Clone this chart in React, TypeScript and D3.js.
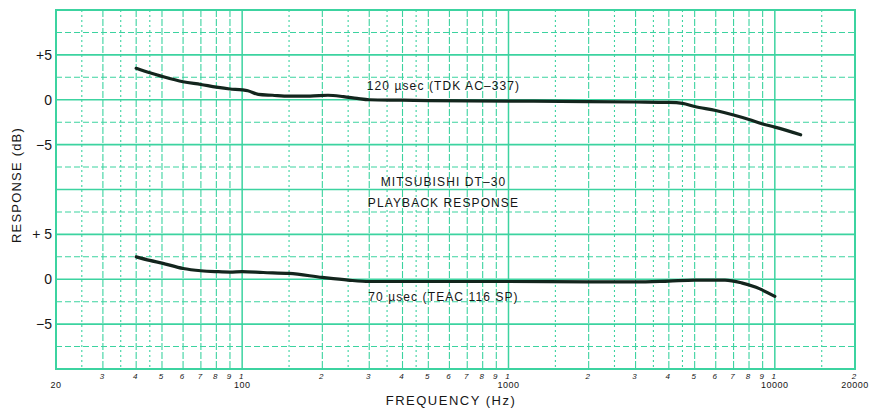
import React, { useEffect, useRef } from 'react';
import * as d3 from 'd3';

// upper curve: 120 usec (TDK AC-337), dB relative to its own 0
const upperFreq = [40, 45, 50, 60, 70, 80, 90, 100, 105, 115, 130, 150, 180, 210, 240, 270, 300, 400, 500, 1000, 2000, 3000, 4000, 4500, 5000, 6000, 7000, 8000, 9000, 10000, 12500];
const upperDb = [3.5, 3.0, 2.6, 2.0, 1.7, 1.4, 1.2, 1.1, 1.0, 0.6, 0.5, 0.4, 0.4, 0.5, 0.35, 0.15, 0.0, -0.05, -0.1, -0.15, -0.2, -0.25, -0.3, -0.4, -0.75, -1.2, -1.7, -2.2, -2.7, -3.05, -3.9];

// lower curve: 70 usec (TEAC 116 SP)
const lowerFreq = [40, 45, 50, 60, 70, 80, 90, 100, 120, 150, 200, 250, 300, 500, 1000, 2000, 3000, 4000, 5000, 6500, 7500, 8500, 10000];
const lowerDb = [2.5, 2.1, 1.8, 1.2, 0.95, 0.85, 0.8, 0.85, 0.75, 0.65, 0.2, -0.1, -0.25, -0.25, -0.25, -0.3, -0.3, -0.2, -0.1, -0.1, -0.4, -0.9, -1.9];

// the two panels share one dB scale; upper panel sits 20 dB above lower one
const upperOffset = 0;
const lowerOffset = -20;

const decades = [10, 100, 1000, 10000];
const gridMultiples = [1, 1.5, 2, 2.5, 3, 3.5, 4, 4.5, 5, 6, 7, 8, 9];
const digitMultiples = [1, 2, 3, 4, 5, 6, 7, 8, 9];
const decadeFreqs = [20, 100, 1000, 10000, 20000];
const decadeLabels = ['20', '100', '1000', '10000', '20000'];

const yTickValues = [5, 0, -5, -15, -20, -25];
const yTickLabels = ['+5', '0', '\u22125', '+ 5', '0', '\u22125'];

const noteTexts = ['120 \u00b5sec (TDK AC\u2013337)', 'MITSUBISHI DT\u201330', 'PLAYBACK RESPONSE', '70 \u00b5sec (TEAC 116 SP)'];
const noteDb = [1.6, -9.1, -11.5, -21.9];

const App: React.FC = () => {
    const svgRef = useRef<SVGSVGElement>(null);

    const width = 869;
    const height = 409;

    useEffect(() => {
        if (!svgRef.current) return;
        document.body.style.margin = '0';

        const svg = d3.select(svgRef.current);
        svg.selectAll('*').remove();

        const margin = { top: 10, right: 14, bottom: 40, left: 56 };
        const gridColor = '#3cd3a0';
        const inkColor = '#13251d';
        const textColor = '#161616';
        const font = '"Liberation Sans", Arial, sans-serif';

        const xScale = d3.scaleLog()
            .domain([20, 20000])
            .range([margin.left, width - margin.right]);

        const yScale = d3.scaleLinear()
            .domain([-30, 10])
            .range([height - margin.bottom, margin.top]);

        svg.append('rect')
            .attr('width', width)
            .attr('height', height)
            .attr('fill', '#ffffff');

        // vertical grid
        const gridFreqs: number[] = [];
        decades.forEach(d => gridMultiples.forEach(m => {
            const f = d * m;
            if (f > 20 && f < 20000) gridFreqs.push(f);
        }));

        const mantissa = (d: number) => d / Math.pow(10, Math.floor(Math.log10(d) + 1e-9));

        svg.append('g')
            .selectAll('line')
            .data(gridFreqs)
            .join('line')
            .attr('x1', d => xScale(d))
            .attr('x2', d => xScale(d))
            .attr('y1', yScale(10))
            .attr('y2', yScale(-30))
            .attr('stroke', gridColor)
            .attr('stroke-width', d => (Math.abs(mantissa(d) - 1) < 1e-6 ? 1.5 : 1.1))
            .attr('stroke-dasharray', d => {
                const m = Math.round(mantissa(d) * 10) / 10;
                if (m === 1) return null;
                return Number.isInteger(m) ? '7,2' : '2,3';
            });

        // horizontal grid
        const gridDb = d3.range(-27.5, 10, 2.5);
        svg.append('g')
            .selectAll('line')
            .data(gridDb)
            .join('line')
            .attr('x1', xScale(20))
            .attr('x2', xScale(20000))
            .attr('y1', d => yScale(d))
            .attr('y2', d => yScale(d))
            .attr('stroke', gridColor)
            .attr('stroke-width', d => (d % 5 === 0 ? 1.6 : 1.1))
            .attr('stroke-dasharray', d => (d % 5 === 0 ? null : '6,3'));

        // frame
        svg.append('rect')
            .attr('x', xScale(20))
            .attr('y', yScale(10))
            .attr('width', xScale(20000) - xScale(20))
            .attr('height', yScale(-30) - yScale(10))
            .attr('fill', 'none')
            .attr('stroke', gridColor)
            .attr('stroke-width', 2);

        // curves
        const line = d3.line<[number, number]>()
            .x(d => xScale(d[0]))
            .y(d => yScale(d[1]))
            .curve(d3.curveMonotoneX);

        svg.append('path')
            .datum(upperFreq.map((f, i) => [f, upperDb[i] + upperOffset] as [number, number]))
            .attr('fill', 'none')
            .attr('stroke', inkColor)
            .attr('stroke-width', 3.2)
            .attr('stroke-linecap', 'round')
            .attr('d', line);

        svg.append('path')
            .datum(lowerFreq.map((f, i) => [f, lowerDb[i] + lowerOffset] as [number, number]))
            .attr('fill', 'none')
            .attr('stroke', inkColor)
            .attr('stroke-width', 3.2)
            .attr('stroke-linecap', 'round')
            .attr('d', line);

        // y tick labels
        svg.append('g')
            .selectAll('text')
            .data(yTickValues)
            .join('text')
            .attr('x', margin.left - 4)
            .attr('y', d => yScale(d))
            .attr('dy', '0.36em')
            .attr('text-anchor', 'end')
            .attr('font-family', font)
            .attr('font-size', 14)
            .attr('fill', textColor)
            .text((d, i) => yTickLabels[i]);

        // x digit labels
        const digitFreqs: number[] = [];
        decades.forEach(d => digitMultiples.forEach(m => {
            const f = d * m;
            if (f > 20 && f <= 20000) digitFreqs.push(f);
        }));

        svg.append('g')
            .selectAll('text')
            .data(digitFreqs)
            .join('text')
            .attr('x', d => xScale(d) - 1)
            .attr('y', yScale(-30) + 10)
            .attr('text-anchor', 'middle')
            .attr('font-family', font)
            .attr('font-size', 8)
            .attr('font-style', 'italic')
            .attr('fill', textColor)
            .text(d => String(Math.round(mantissa(d))));

        svg.append('g')
            .selectAll('text')
            .data(decadeFreqs)
            .join('text')
            .attr('x', d => xScale(d))
            .attr('y', yScale(-30) + 19)
            .attr('text-anchor', 'middle')
            .attr('font-family', font)
            .attr('font-size', 9)
            .attr('letter-spacing', 0.5)
            .attr('fill', textColor)
            .text((d, i) => decadeLabels[i]);

        // axis titles
        svg.append('text')
            .attr('x', 451)
            .attr('y', height - 4)
            .attr('text-anchor', 'middle')
            .attr('font-family', font)
            .attr('font-size', 13)
            .attr('letter-spacing', 1.5)
            .attr('fill', textColor)
            .text('FREQUENCY (Hz)');

        svg.append('text')
            .attr('transform', `translate(21, ${yScale(-9.5)}) rotate(-90)`)
            .attr('text-anchor', 'middle')
            .attr('font-family', font)
            .attr('font-size', 13)
            .attr('letter-spacing', 1.2)
            .attr('fill', textColor)
            .text('RESPONSE (dB)');

        // annotations, centred near 570 Hz
        svg.append('g')
            .selectAll('text')
            .data(noteTexts)
            .join('text')
            .attr('x', xScale(570))
            .attr('y', (d, i) => yScale(noteDb[i]))
            .attr('dy', '0.35em')
            .attr('text-anchor', 'middle')
            .attr('font-family', font)
            .attr('font-size', 12)
            .attr('letter-spacing', 1.1)
            .attr('fill', textColor)
            .text(d => d);
    }, []);

    return (
        <svg ref={svgRef} width={width} height={height} style={{ display: 'block' }}></svg>
    );
};

export default App;
